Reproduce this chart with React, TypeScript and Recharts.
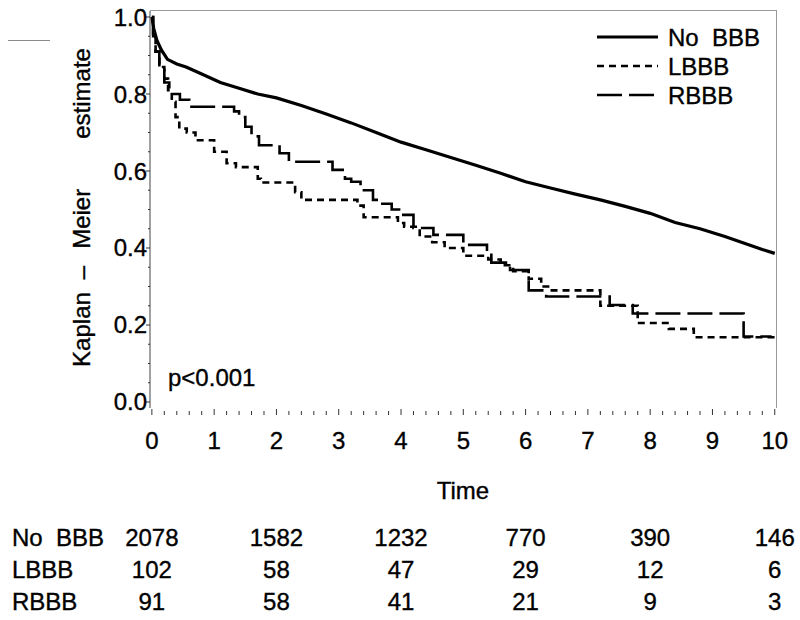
import { Legend, Line, LineChart, XAxis, YAxis } from "recharts";

const FONT = "'Liberation Sans', Arial, Helvetica, sans-serif";
const TEXT_STROKE = 0.35; // the original's glyphs print a little heavier

// Kaplan-Meier curves (time in years, survival estimate)
const NO_BBB_TIME = [0, 0.03, 0.08, 0.15, 0.25, 0.4, 0.55, 0.8, 1.1, 1.4, 1.7, 2.0, 2.4, 2.8, 3.2, 3.6, 4.0, 4.4, 4.8, 5.2, 5.6, 6.0, 6.4, 6.8, 7.2, 7.6, 8.0, 8.4, 8.8, 9.2, 9.5, 9.8, 10.0];
const NO_BBB_SURV = [1.0, 0.97, 0.94, 0.915, 0.89, 0.878, 0.87, 0.852, 0.83, 0.815, 0.8, 0.79, 0.77, 0.748, 0.725, 0.7, 0.675, 0.655, 0.635, 0.615, 0.594, 0.572, 0.556, 0.54, 0.525, 0.508, 0.49, 0.466, 0.45, 0.43, 0.413, 0.396, 0.386];

const LBBB_TIME = [0, 0.02, 0.06, 0.12, 0.2, 0.26, 0.32, 0.38, 0.44, 0.56, 0.7, 1.0, 1.2, 1.35, 1.7, 1.75, 2.3, 2.4, 3.3, 3.4, 3.95, 4.05, 4.3, 4.5, 4.7, 5.0, 5.4, 5.6, 5.8, 6.05, 6.25, 6.4, 7.2, 7.8, 8.3, 8.7, 10.0];
const LBBB_SURV = [1.0, 0.95, 0.91, 0.87, 0.84, 0.81, 0.78, 0.74, 0.71, 0.7, 0.68, 0.65, 0.62, 0.61, 0.58, 0.57, 0.545, 0.525, 0.51, 0.48, 0.465, 0.455, 0.43, 0.415, 0.4, 0.38, 0.37, 0.355, 0.34, 0.32, 0.3, 0.29, 0.25, 0.205, 0.19, 0.168, 0.168];

const RBBB_TIME = [0, 0.02, 0.06, 0.12, 0.2, 0.28, 0.45, 0.6, 1.32, 1.4, 1.5, 1.6, 1.72, 2.05, 2.2, 2.9, 3.1, 3.2, 3.35, 3.55, 3.7, 3.85, 4.0, 4.2, 4.52, 5.0, 5.38, 5.45, 5.75, 6.05, 6.33, 7.35, 7.72, 9.5, 9.95];
const RBBB_SURV = [1.0, 0.95, 0.91, 0.87, 0.83, 0.8, 0.785, 0.767, 0.755, 0.74, 0.715, 0.69, 0.667, 0.646, 0.624, 0.603, 0.58, 0.572, 0.55, 0.525, 0.515, 0.5, 0.486, 0.452, 0.434, 0.408, 0.386, 0.362, 0.343, 0.29, 0.274, 0.252, 0.23, 0.17, 0.17];

// axis ticks
const Y_TICKS = [0, 0.05, 0.1, 0.15, 0.2, 0.25, 0.3, 0.35, 0.4, 0.45, 0.5, 0.55, 0.6, 0.65, 0.7, 0.75, 0.8, 0.85, 0.9, 0.95, 1.0];
const X_TICKS = [
  0, 0.2, 0.4, 0.6, 0.8, 1, 1.2, 1.4, 1.6, 1.8, 2, 2.2, 2.4, 2.6, 2.8, 3, 3.2, 3.4, 3.6, 3.8,
  4, 4.2, 4.4, 4.6, 4.8, 5, 5.2, 5.4, 5.6, 5.8, 6, 6.2, 6.4, 6.6, 6.8, 7, 7.2, 7.4, 7.6, 7.8,
  8, 8.2, 8.4, 8.6, 8.8, 9, 9.2, 9.4, 9.6, 9.8, 10,
];

// number at risk
const RISK_TIMES = [0, 2, 4, 6, 8, 10];
const RISK_GROUPS = ["No  BBB", "LBBB", "RBBB"];
const RISK_NO_BBB = [2078, 1582, 1232, 770, 390, 146];
const RISK_LBBB = [102, 58, 47, 29, 12, 6];
const RISK_RBBB = [91, 58, 41, 21, 9, 3];
const RISK_ROWS = [RISK_NO_BBB, RISK_LBBB, RISK_RBBB];

const toPoints = (t: number[], s: number[]) => t.map((time, i) => ({ time, surv: s[i] }));

const SERIES = [
  { name: "No  BBB", data: toPoints(NO_BBB_TIME, NO_BBB_SURV), dash: undefined, width: 3.2, type: "linear" },
  { name: "LBBB", data: toPoints(LBBB_TIME, LBBB_SURV), dash: "7 5", width: 2.6, type: "stepAfter" },
  { name: "RBBB", data: toPoints(RBBB_TIME, RBBB_SURV), dash: "25 7", width: 2.6, type: "stepAfter" },
] as const;

// empty series that keeps the risk-table axis alive; it draws nothing
const AXIS_ANCHOR = RISK_TIMES.map((time) => ({ time, surv: null }));

const X_DOMAIN: [number, number] = [-0.03, 10.02];
const Y_DOMAIN: [number, number] = [-0.0156, 1.0156];

// plot box (chart margins + y-axis width), used for the grey frame
const PLOT = { left: 150, top: 11, right: 776, bottom: 408 };

const isInt = (v: number, k: number) => Math.abs(v * k - Math.round(v * k)) < 1e-6;

const svgText = { fontFamily: FONT, fontSize: 24, fill: "#000", stroke: "#000", strokeWidth: TEXT_STROKE };

function XTick(props: any) {
  const { x, y, payload } = props;
  const v = payload.value as number;
  const major = isInt(v, 1);
  return (
    <g>
      <line x1={x} x2={x} y1={y + (major ? 1 : 3)} y2={y + 7} stroke="#333" strokeWidth={1} />
      {major && (
        <text x={x} y={y + 41} textAnchor="middle" {...svgText}>
          {v}
        </text>
      )}
    </g>
  );
}

function YTick(props: any) {
  const { x, y, payload } = props;
  const v = payload.value as number;
  const major = isInt(v, 5);
  return (
    <g>
      <line x1={x - (major ? 4 : 2)} x2={x} y1={y} y2={y} stroke="#333" strokeWidth={1} />
      {major && (
        <text x={x - 3} y={y + 8.5} textAnchor="end" {...svgText}>
          {v.toFixed(1)}
        </text>
      )}
    </g>
  );
}

function RiskTick(props: any) {
  const { x, y, payload } = props;
  const col = RISK_TIMES.indexOf(payload.value);
  return (
    <g {...svgText}>
      {RISK_ROWS.map((row, r) => (
        <text key={r} x={x} y={y + 43 + r * 32} textAnchor="middle">
          {row[col]}
        </text>
      ))}
      {col === 0 &&
        RISK_GROUPS.map((g, r) => (
          <text key={g} x={12} y={y + 43 + r * 32} xmlSpace="preserve" style={{ whiteSpace: "pre" }}>
            {g}
          </text>
        ))}
    </g>
  );
}

function KmLegend() {
  return (
    <div
      style={{
        fontFamily: FONT,
        fontSize: 24,
        color: "#000",
        lineHeight: "29px",
        WebkitTextStroke: `${TEXT_STROKE}px #000`,
      }}
    >
      {SERIES.map((s) => (
        <div key={s.name} style={{ display: "flex", alignItems: "center", whiteSpace: "pre" }}>
          <svg width={71} height={29}>
            <line x1={0} x2={61} y1={14} y2={14} stroke="#000" strokeWidth={s.width} strokeDasharray={s.dash} />
          </svg>
          {s.name}
        </div>
      ))}
    </div>
  );
}

function YLabel(p: any) {
  const cx = p.viewBox.x + 81;
  const cy = p.viewBox.y + p.viewBox.height / 2 - 2;
  return (
    <text
      x={cx}
      y={cy}
      transform={`rotate(-90 ${cx} ${cy})`}
      textAnchor="middle"
      dominantBaseline="central"
      {...svgText}
    >
      <tspan>Kaplan</tspan>
      <tspan dx={13}>–</tspan>
      <tspan dx={17}>Meier</tspan>
      <tspan dx={50}>estimate</tspan>
    </text>
  );
}

function XLabel(p: any) {
  return (
    <text x={p.viewBox.x + p.viewBox.width / 2} y={p.viewBox.y + 91} textAnchor="middle" {...svgText}>
      Time
    </text>
  );
}

export default function App() {
  return (
    <div style={{ position: "absolute", left: 0, top: 0, width: 800, height: 620, background: "#fff" }}>
      <div style={{ position: "absolute", left: 8, top: 40, width: 42, height: 1, background: "#8a8a8a" }} />
      <LineChart width={800} height={620} margin={{ top: 11, right: 24, bottom: 5, left: 0 }}>
        <XAxis
          xAxisId={0}
          dataKey="time"
          type="number"
          domain={X_DOMAIN}
          allowDataOverflow
          ticks={X_TICKS}
          interval={0}
          tick={<XTick />}
          tickSize={0}
          tickMargin={0}
          tickLine={false}
          axisLine={false}
          height={95}
          label={{ content: XLabel }}
        />
        <XAxis
          xAxisId="risk"
          dataKey="time"
          type="number"
          domain={X_DOMAIN}
          allowDataOverflow
          ticks={RISK_TIMES}
          interval={0}
          tick={<RiskTick />}
          tickSize={0}
          tickMargin={0}
          tickLine={false}
          axisLine={false}
          height={112}
        />
        <YAxis
          yAxisId={0}
          type="number"
          domain={Y_DOMAIN}
          allowDataOverflow
          ticks={Y_TICKS}
          interval={0}
          tick={<YTick />}
          tickSize={0}
          tickMargin={0}
          tickLine={false}
          axisLine={{ stroke: "#444", strokeWidth: 1 }}
          width={150}
          label={{ content: YLabel }}
        />
        <Legend
          layout="horizontal"
          verticalAlign="middle"
          align="center"
          content={<KmLegend />}
          wrapperStyle={{ position: "absolute", top: 23, left: 597, width: 190, height: 90 }}
        />
        <Line
          xAxisId="risk"
          data={AXIS_ANCHOR}
          dataKey="surv"
          stroke="none"
          dot={false}
          activeDot={false}
          legendType="none"
          isAnimationActive={false}
        />
        {SERIES.map((s) => (
          <Line
            key={s.name}
            name={s.name}
            data={s.data}
            dataKey="surv"
            type={s.type}
            stroke="#000"
            strokeWidth={s.width}
            strokeDasharray={s.dash}
            dot={false}
            activeDot={false}
            isAnimationActive={false}
          />
        ))}
      </LineChart>
      {/* grey frame along the top and right of the plot */}
      <div
        style={{
          position: "absolute",
          left: PLOT.left,
          top: PLOT.top - 1,
          width: PLOT.right - PLOT.left,
          height: PLOT.bottom - PLOT.top,
          borderTop: "1.5px solid #999",
          borderRight: "1.5px solid #999",
          pointerEvents: "none",
        }}
      />
      <div
        style={{
          position: "absolute",
          left: 168,
          top: 364,
          fontFamily: FONT,
          fontSize: 24,
          color: "#000",
          lineHeight: "28px",
          WebkitTextStroke: `${TEXT_STROKE}px #000`,
        }}
      >
        p&lt;0.001
      </div>
    </div>
  );
}
